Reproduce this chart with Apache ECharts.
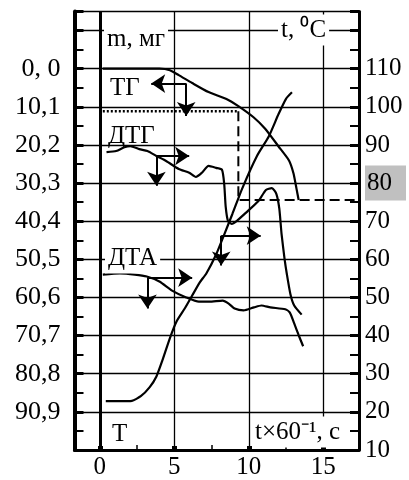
<!DOCTYPE html>
<html>
<head>
<meta charset="utf-8">
<style>
html, body { margin: 0; padding: 0; background: #fff; }
#chart { width: 409px; height: 480px; }
</style>
<script src="https://cdn.jsdelivr.net/npm/echarts@6/dist/echarts.min.js"></script>
</head>
<body>
<div id="chart"></div>
<script>
const FONT = '"Liberation Serif", "Times New Roman", serif';

// TG: mass loss, m (mg) vs t×60⁻¹ (min)
const tgTime = [0.2, 2.0, 4.0, 4.7, 5.3, 6.2, 7.3, 8.5, 9.3, 10.3, 11.1, 12.0, 12.7, 13.0, 13.2, 13.35];
const tgMass = [0, 0, 0, 0.4, 1.7, 3.8, 6.2, 8.0, 9.9, 12.8, 15.9, 20.6, 24.3, 27.7, 31.7, 34.8];

// T: temperature, °C
const tTime = [0.4, 1.35, 2.15, 2.75, 3.35, 3.8, 4.2, 4.7, 5.15, 5.7, 6.2, 6.7, 7.15, 7.8, 8.35, 8.9, 9.55, 10.55, 11.35, 12.0, 12.5, 12.9];
const tTemp = [22.8, 22.8, 22.9, 24.1, 26.5, 29.3, 33.5, 39.3, 43.7, 47.1, 50.5, 53.9, 56.3, 61.2, 66.5, 71.9, 78.5, 87.1, 92.3, 98.1, 102.1, 103.8];

// DTG (drawn on the temperature scale)
const dtgTime = [0.45, 1.1, 1.65, 2.05, 2.65, 3.2, 3.8, 4.45, 5.3, 6.0, 6.45, 6.85, 7.3, 7.8, 8.2, 8.35, 8.45, 8.6, 8.85, 9.2, 9.8, 10.65, 11.15, 11.55, 11.85, 12.05, 12.2, 12.4, 12.55, 12.8, 13.05, 13.55];
const dtgVal = [88.1, 88.4, 89.4, 89.7, 88.9, 88.4, 87.1, 85.8, 83.7, 82.7, 81.6, 82.7, 84.5, 84.0, 83.5, 79.8, 73.8, 70.1, 69.3, 70.1, 72.2, 75.3, 78.2, 78.7, 77.2, 73.3, 66.7, 60.2, 56.3, 50.8, 47.9, 45.5];

// DTA (drawn on the temperature scale)
const dtaTime = [0.2, 1.35, 2.35, 3.15, 4.0, 4.85, 5.8, 6.65, 7.35, 8.25, 8.65, 9.05, 9.65, 10.35, 10.85, 11.45, 12.45, 12.75, 13.05, 13.35, 13.65];
const dtaVal = [56.0, 56.3, 56.0, 55.5, 54.2, 51.8, 50.0, 48.9, 48.9, 49.2, 48.4, 47.1, 46.6, 47.4, 47.9, 47.4, 46.9, 46.1, 43.2, 40.1, 37.2];

// reading of the TG step: dotted / dashed guide (mass units)
const guideTime = [0.2, 9.3, 17.4];
const guideMass = [11.3, 34.8];

// arrow pairs: TG, DTG, DTA, T
const arrowX = [5.8, 3.8, 3.2, 8.15];
const arrowY = [106.1, 87.1, 55.2, 66.2];
const arrowXEnd = [3.45, 6.0, 6.2, 10.8];
const arrowYEnd = [97.6, 79.3, 47.1, 58.4];

// tick labels
const timeTicks = [0, 5, 10, 15];
const timeMinor = [2.5, 7.5, 12.5];
const massTicks = [0, 10.1, 20.2, 30.3, 40.4, 50.5, 60.6, 70.7, 80.8, 90.9];
const massLabels = ['0, 0', '10,1', '20,2', '30,3', '40,4', '50,5', '60,6', '70,7', '80,8', '90,9'];

const zip = (a, b) => a.map((v, i) => [v, b[i]]);

const chart = echarts.init(document.getElementById('chart'));

const curve = {
  type: 'line',
  showSymbol: false,
  smooth: 0.2,
  silent: true,
  lineStyle: { color: '#000', width: 2.2 },
  z: 5
};

const arrowLines = [];
for (let i = 0; i < arrowX.length; i++) {
  arrowLines.push([{ coord: [arrowX[i], arrowY[i]] }, { coord: [arrowXEnd[i], arrowY[i]] }]);
  arrowLines.push([{ coord: [arrowX[i], arrowY[i]] }, { coord: [arrowX[i], arrowYEnd[i]] }]);
}

function textBox(text, x, y, bg) {
  return {
    type: 'text', x: x, y: y, z: 50,
    style: {
      text: text, font: '25px ' + FONT, fill: '#000',
      verticalAlign: 'middle', align: 'left',
      backgroundColor: bg ? '#fff' : null,
      padding: bg ? [3, 3, 3, 3] : 0
    }
  };
}

const option = {
  animation: false,
  backgroundColor: '#fff',
  grid: { left: 74.5, right: 48, top: 11.5, bottom: 26.6, show: true, borderColor: '#000', borderWidth: 1.2 },
  xAxis: [
    {
      type: 'value', min: -1.7, max: 17.4, position: 'bottom',
      axisLine: { onZero: false, lineStyle: { color: '#000', width: 3 } },
      axisTick: { customValues: timeTicks, inside: true, length: 4, lineStyle: { color: '#000', width: 5 } },
      axisLabel: { customValues: timeTicks, color: '#000', fontFamily: FONT, fontSize: 25, margin: 5 },
      splitLine: { show: true, lineStyle: { color: '#000', width: 1.3 } }
    },
    {
      type: 'value', min: -1.7, max: 17.4, position: 'bottom',
      axisLine: { show: false, onZero: false },
      axisTick: { customValues: timeMinor, inside: true, length: 5, lineStyle: { color: '#000', width: 1.5 } },
      axisLabel: { show: false },
      splitLine: { show: false }
    }
  ],
  yAxis: [
    {
      // m, mg
      type: 'value', inverse: true, min: -15.15, max: 101, position: 'left',
      axisLine: { show: true, onZero: false, lineStyle: { color: '#000', width: 4 } },
      axisTick: { show: false },
      axisLabel: {
        customValues: massTicks, color: '#000', fontFamily: FONT, fontSize: 26, margin: 14,
        formatter: function (v) {
          const i = massTicks.findIndex(t => Math.abs(t - v) < 1e-6);
          return i >= 0 ? massLabels[i] : '';
        }
      },
      splitLine: { show: false }
    },
    {
      // t, °C
      type: 'value', min: 10, max: 125, interval: 10, position: 'right',
      axisLine: { show: true, onZero: false, lineStyle: { color: '#000', width: 3 } },
      axisTick: { inside: true, length: 9, lineStyle: { color: '#000', width: 3 } },
      minorTick: { show: true, splitNumber: 2, length: 9, lineStyle: { color: '#000', width: 2 } },
      axisLabel: {
        color: '#000', fontFamily: FONT, fontSize: 25, margin: 6, showMinLabel: true, showMaxLabel: false,
        formatter: function (v) {
          if (v >= 120) return '';
          if (v === 80) return '{hl|80}';
          return String(v);
        },
        rich: {
          hl: { backgroundColor: '#c0c0c0', padding: [5, 14, 5, 2], fontFamily: FONT, fontSize: 25, color: '#000' }
        }
      },
      splitLine: { show: true, lineStyle: { color: '#000', width: 1.3 } }
    },
    {
      // left-side ticks on the same grid as the temperature axis
      type: 'value', min: 10, max: 125, interval: 10, position: 'left',
      axisLine: { show: false, onZero: false },
      axisTick: { inside: true, length: 9, lineStyle: { color: '#000', width: 3 } },
      minorTick: { show: true, splitNumber: 2, length: 9, lineStyle: { color: '#000', width: 2 } },
      axisLabel: { show: false },
      splitLine: { show: false }
    }
  ],
  graphic: [
    textBox('m, мг', 104, 39, true),
    textBox('t, \u2070C', 278, 30, true),
    textBox('ТГ', 110, 88, false),
    textBox('ДТГ', 108, 136, false),
    textBox('ДТА', 105, 258, true),
    textBox('T', 112, 434, false),
    textBox('t\u00d760\u207b\u00b9, c', 252, 432, true)
  ],
  series: [
    Object.assign({}, curve, {
      name: 'ТГ', yAxisIndex: 0, data: zip(tgTime, tgMass)
    }),
    Object.assign({}, curve, {
      name: 'T', yAxisIndex: 1, data: zip(tTime, tTemp),
      markLine: {
        silent: true, symbol: 'none', label: { show: false },
        lineStyle: { color: '#000', width: 3, type: 'solid' },
        data: [{ xAxis: 0 }]
      }
    }),
    Object.assign({}, curve, {
      name: 'ДТГ', yAxisIndex: 1, data: zip(dtgTime, dtgVal)
    }),
    Object.assign({}, curve, {
      name: 'ДТА', yAxisIndex: 1, data: zip(dtaTime, dtaVal),
      markLine: {
        silent: true, symbol: ['none', 'arrow'], symbolSize: 14, label: { show: false },
        lineStyle: { color: '#000', width: 2, type: 'solid' },
        data: arrowLines
      }
    }),
    {
      type: 'line', yAxisIndex: 0, showSymbol: false, silent: true, z: 4,
      lineStyle: { color: '#000', width: 2.5, type: [2, 2] },
      data: [[guideTime[0], guideMass[0]], [guideTime[1], guideMass[0]]]
    },
    {
      type: 'line', yAxisIndex: 0, showSymbol: false, silent: true, z: 4,
      lineStyle: { color: '#000', width: 2, type: [10, 5] },
      data: [[guideTime[1], guideMass[0]], [guideTime[1], guideMass[1]], [guideTime[2], guideMass[1]]]
    }
  ]
};

chart.setOption(option);
</script>
</body>
</html>
